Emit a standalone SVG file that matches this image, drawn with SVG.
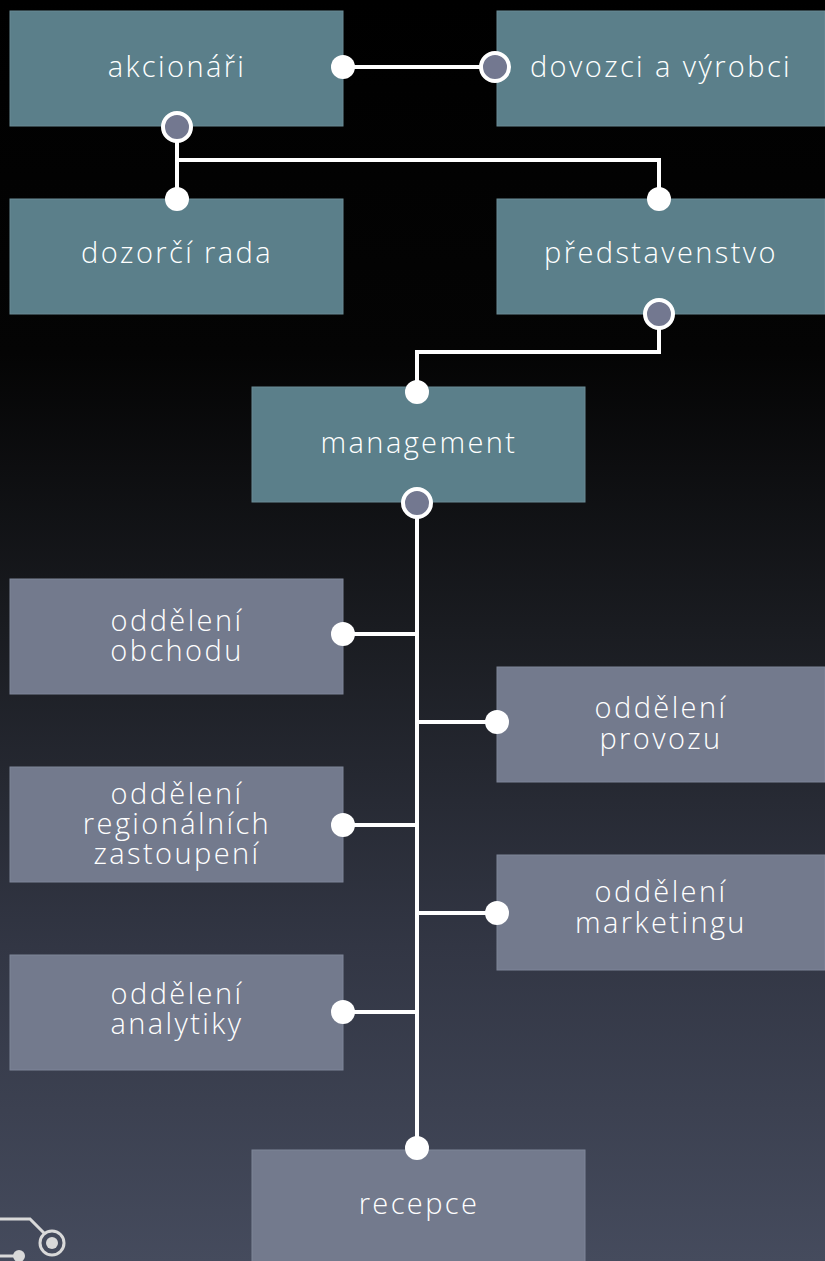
<svg xmlns="http://www.w3.org/2000/svg" width="825" height="1261" viewBox="0 0 825 1261">
<defs>
<linearGradient id="bg" x1="0" y1="0" x2="0" y2="1">
<stop offset="0" stop-color="#000000"/>
<stop offset="0.28" stop-color="#040404"/>
<stop offset="0.5" stop-color="#1a1c21"/>
<stop offset="0.75" stop-color="#323644"/>
<stop offset="1" stop-color="#454b5d"/>
</linearGradient>
<style>
.teal{fill:#5b7f8a;stroke:#6a8b95;stroke-width:1}
.gray{fill:#737a8d;stroke:#7e8598;stroke-width:1}
.lbl{font-family:"Open Sans",Lato,"Liberation Sans",sans-serif;font-size:29px;font-weight:300;fill:#ffffff;text-anchor:middle;letter-spacing:2.4px}
.ln{fill:none;stroke:#ffffff;stroke-width:4}
.dot{fill:#ffffff}
.ring{fill:#737890;stroke:#ffffff;stroke-width:4}
.deco{fill:none;stroke:#d9d9d9;stroke-width:3}
</style>
</defs>
<rect width="825" height="1261" fill="url(#bg)"/>

<g id="akcionari"><rect class="teal" x="10" y="11" width="333" height="115"/><text class="lbl" x="177" y="77">akcionáři</text></g>
<g id="dovozci"><rect class="teal" x="497" y="11" width="328" height="115"/><text class="lbl" x="661" y="77">dovozci a výrobci</text></g>
<g id="dozorci"><rect class="teal" x="10" y="199" width="333" height="115"/><text class="lbl" x="177" y="263">dozorčí rada</text></g>
<g id="predstavenstvo"><rect class="teal" x="497" y="199" width="328" height="115"/><text class="lbl" x="661" y="263">představenstvo</text></g>
<g id="management"><rect class="teal" x="252" y="387" width="333" height="115"/><text class="lbl" x="419" y="453">management</text></g>
<g id="obchod"><rect class="gray" x="10" y="579" width="333" height="115"/><text class="lbl" x="177" y="631">oddělení</text><text class="lbl" x="177" y="661">obchodu</text></g>
<g id="provoz"><rect class="gray" x="497" y="667" width="328" height="115"/><text class="lbl" x="661" y="718">oddělení</text><text class="lbl" x="661" y="749">provozu</text></g>
<g id="regionalni"><rect class="gray" x="10" y="767" width="333" height="115"/><text class="lbl" x="177" y="804">oddělení</text><text class="lbl" x="177" y="834">regionálních</text><text class="lbl" x="177" y="864">zastoupení</text></g>
<g id="marketing"><rect class="gray" x="497" y="855" width="328" height="115"/><text class="lbl" x="661" y="902">oddělení</text><text class="lbl" x="661" y="933">marketingu</text></g>
<g id="analytika"><rect class="gray" x="10" y="955" width="333" height="115"/><text class="lbl" x="177" y="1004">oddělení</text><text class="lbl" x="177" y="1034">analytiky</text></g>
<g id="recepce"><rect class="gray" x="252" y="1150" width="333" height="115"/><text class="lbl" x="419" y="1214">recepce</text></g>

<g id="connectors">
<path class="ln" d="M343 67 H495"/>
<path class="ln" d="M177 127 V160 H659 V199 M177 160 V199"/>
<path class="ln" d="M659 314 V352 H417 V392"/>
<path class="ln" d="M417 503 V1148 M343 634 H417 M417 722 H497 M343 825 H417 M417 913 H497 M343 1012 H417"/>
<circle class="dot" cx="343" cy="67" r="12"/>
<circle class="ring" cx="495" cy="67" r="14"/>
<circle class="ring" cx="177" cy="127" r="14"/>
<circle class="dot" cx="177" cy="199" r="12"/>
<circle class="dot" cx="659" cy="199" r="12"/>
<circle class="ring" cx="659" cy="314" r="14"/>
<circle class="dot" cx="417" cy="392" r="12"/>
<circle class="ring" cx="417" cy="503" r="14"/>
<circle class="dot" cx="343" cy="634" r="12"/>
<circle class="dot" cx="497" cy="722" r="12"/>
<circle class="dot" cx="343" cy="825" r="12"/>
<circle class="dot" cx="497" cy="913" r="12"/>
<circle class="dot" cx="343" cy="1012" r="12"/>
<circle class="dot" cx="417" cy="1148" r="12"/>
</g>

<g id="decoration">
<path class="deco" d="M0 1219 H30 L45 1234"/>
<circle class="deco" cx="52" cy="1243" r="12"/>
<circle fill="#d9d9d9" cx="52" cy="1243" r="6"/>
<path class="deco" d="M0 1256 H16"/>
<circle fill="#d9d9d9" cx="19" cy="1256" r="6"/>
</g>
</svg>
